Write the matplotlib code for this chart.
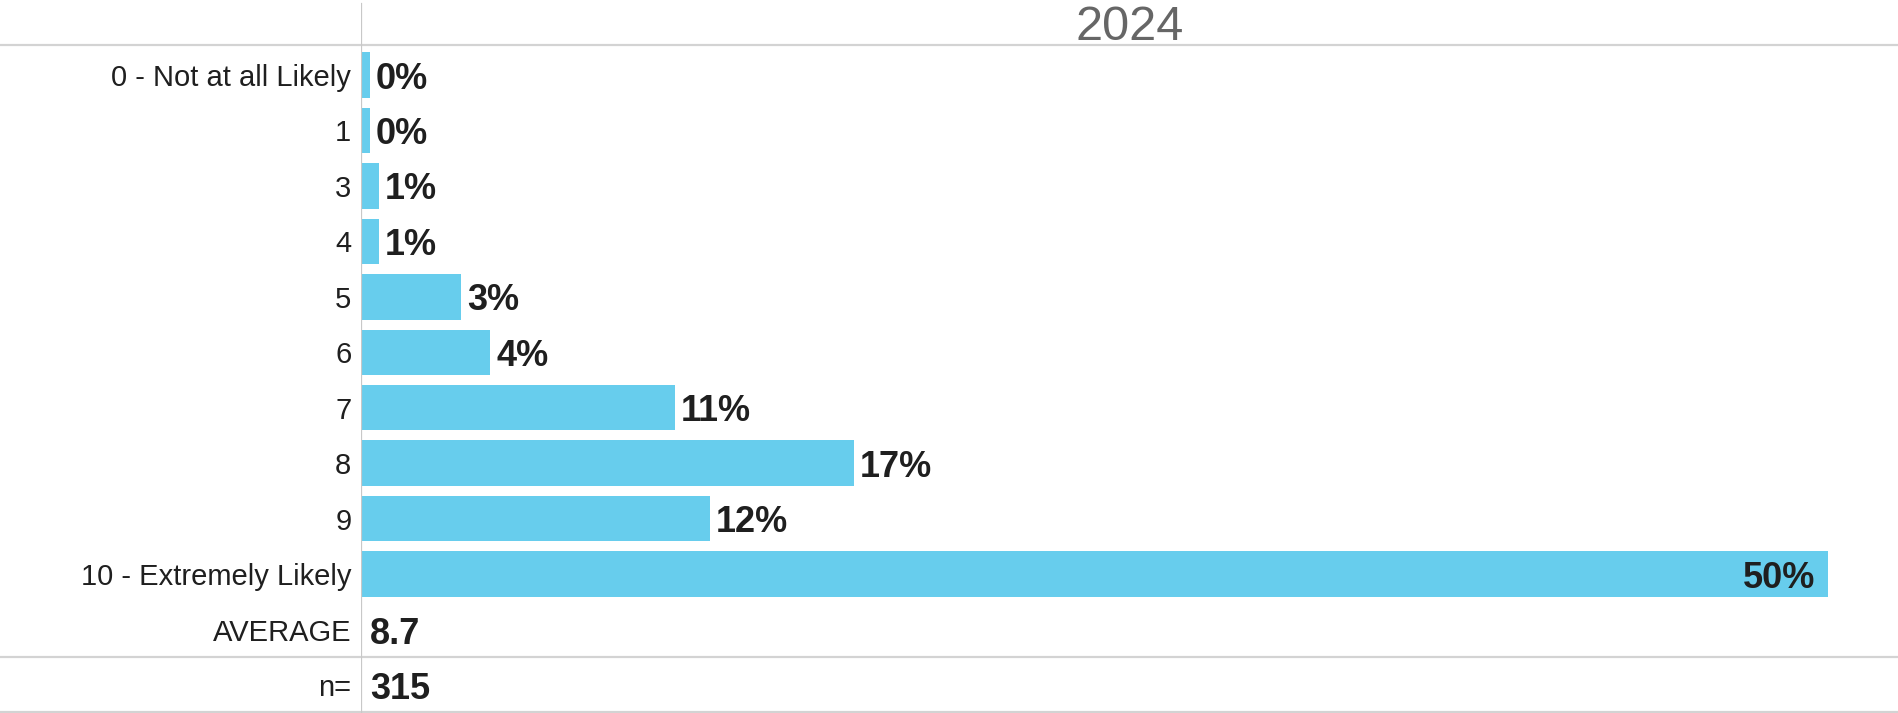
import matplotlib
matplotlib.use("Agg")
import matplotlib.pyplot as plt
from matplotlib.transforms import offset_copy, blended_transform_factory

plt.rcParams['font.family'] = ['Liberation Sans', 'DejaVu Sans']

categories = ["0 - Not at all Likely", "1", "3", "4", "5", "6", "7", "8", "9",
              "10 - Extremely Likely"]
values = [0.3, 0.3, 0.6, 0.6, 3.4, 4.4, 10.7, 16.8, 11.9, 50.0]
value_labels = ["0%", "0%", "1%", "1%", "3%", "4%", "11%", "17%", "12%", "50%"]
year = "2024"
average_label = "AVERAGE"
average_value = "8.7"
n_label = "n="
n_value = "315"

BAR_COLOR = "#67CDED"
GRID = "#D3D3D3"
TEXT = "#1F1F1F"

W, H = 1898, 713
fig = plt.figure(figsize=(W / 100, H / 100), dpi=100)
x0 = 361
ax = fig.add_axes([x0 / W, 0, (W - x0) / W, 1])

rows = list(range(len(categories)))
avg_row = len(categories)
n_row = avg_row + 1

ax.barh(rows, values, height=0.82, color=BAR_COLOR, zorder=2)
ax.set_xlim(0, 50 * (W - x0) / (1828 - x0))
ax.set_ylim(11.505, -1.353)

for s in ax.spines.values():
    s.set_visible(False)
ax.set_xticks([])
ax.set_yticks(rows + [avg_row, n_row])
ax.set_yticklabels(categories + [average_label, n_label], fontsize=21, color=TEXT)
ax.tick_params(axis='y', length=0, pad=7)

# value labels
right_off = offset_copy(ax.transData, fig=fig, x=6, y=-4, units='dots')
inside_off = offset_copy(ax.transData, fig=fig, x=-13, y=-4, units='dots')
for r, v, lab in zip(rows, values, value_labels):
    if v >= 40:
        ax.text(v, r, lab, transform=inside_off, ha='right', va='center',
                fontsize=26, fontweight='bold', color=TEXT, zorder=3)
    else:
        ax.text(v, r, lab, transform=right_off, ha='left', va='center',
                fontsize=26, fontweight='bold', color=TEXT, zorder=3)

val_off = offset_copy(ax.transData, fig=fig, x=9, y=-5, units='dots')
ax.text(0, avg_row, average_value, transform=val_off, ha='left', va='center',
        fontsize=26, fontweight='bold', color=TEXT)
ax.text(0, n_row, n_value, transform=val_off, ha='left', va='center',
        fontsize=26, fontweight='bold', color=TEXT)

# header
ax.text(0.5, -0.85, year,
        transform=blended_transform_factory(ax.transAxes, ax.transData),
        ha='center', va='center', fontsize=35, color="#666666")

# grid lines
xmin_frac = -x0 / (W - x0)
for yv in [-0.54, 10.5, 11.48]:
    ax.axhline(yv, xmin=xmin_frac, xmax=1, color=GRID, lw=1.6, clip_on=False, zorder=1)
ax.axvline(0, ymin=0, ymax=1 - 4 / H, color="#C8C8C8", lw=1.6, zorder=4)

fig.savefig("out.png", dpi=100, facecolor="white")
